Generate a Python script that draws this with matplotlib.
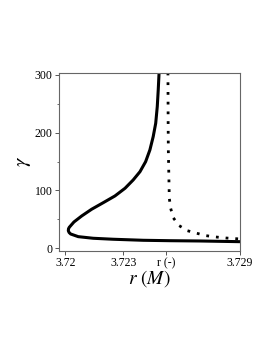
import matplotlib
matplotlib.use('Agg')
import matplotlib.pyplot as plt
from matplotlib.ticker import MultipleLocator

# solid branch: from lower right, round the nose, up to the top
r_solid = [3.72900, 3.72694, 3.72539, 3.72402, 3.72247, 3.72144, 3.72067,
           3.72028, 3.72020, 3.72016, 3.72017, 3.72021, 3.72045, 3.72085,
           3.72136, 3.72196, 3.72256, 3.72308, 3.72350, 3.72385, 3.72414,
           3.72436, 3.72453, 3.72466, 3.72474, 3.72479, 3.72483]
g_solid = [11.4, 12.6, 13.1, 13.8, 15.6, 17.3, 20.1, 24.7, 27.3, 30.4, 33.7,
           36.3, 45.5, 55.9, 67.5, 78.9, 90.5, 103.8, 118.2, 132.5, 149.8,
           170.1, 193.1, 216.3, 245.0, 273.9, 301.6]

# dotted branch: near-vertical at r(-), then bending right
r_dot = [3.72529, 3.72530, 3.72531, 3.72536, 3.72543, 3.72556, 3.72587,
         3.72629, 3.72677, 3.72725, 3.72776, 3.72826, 3.72878, 3.72900]
g_dot = [304.0, 220.0, 170.0, 86.5, 69.2, 52.9, 39.1, 30.4, 26.0, 21.8,
         19.5, 17.8, 16.6, 16.1]

x_ticks = [3.72, 3.723, 3.72519, 3.729]
x_tick_labels = ["3.72", "3.723", "r (-)", "3.729"]
y_ticks = [0, 100, 200, 300]


def main():
    plt.rcParams['font.family'] = ['Liberation Serif', 'DejaVu Serif']
    plt.rcParams['mathtext.fontset'] = 'stix'

    fig = plt.figure(figsize=(2.73, 3.53), dpi=100)
    ax = fig.add_axes([0.2161, 0.2890, 0.6630, 0.5051])

    ax.plot(r_solid, g_solid, color="black", linewidth=2.2,
            solid_capstyle="butt", solid_joinstyle="round")
    ax.plot(r_dot, g_dot, color="black", linewidth=2.0,
            linestyle=(0, (1, 2.5)), dash_capstyle="butt")

    ax.set_xlim(3.71968, 3.72900)
    ax.set_ylim(-4.7, 303.8)

    ax.set_xticks(x_ticks)
    ax.set_xticklabels(x_tick_labels)
    ax.set_yticks(y_ticks)
    ax.yaxis.set_minor_locator(MultipleLocator(50))

    ax.tick_params(axis="both", which="major", direction="out", length=3,
                   width=0.7, color="#555555", labelsize=8.5, pad=1.5)
    ax.tick_params(axis="y", which="minor", direction="out", length=1.5,
                   width=0.6, color="#555555")

    for sp in ax.spines.values():
        sp.set_color("#666666")
        sp.set_linewidth(0.8)

    ax.set_xlabel(r"$r\ (M)$", fontsize=14, labelpad=-1)
    ax.set_ylabel(r"$\gamma$", fontsize=15, labelpad=1)

    fig.savefig("out.png", dpi=100)


if __name__ == "__main__":
    main()
